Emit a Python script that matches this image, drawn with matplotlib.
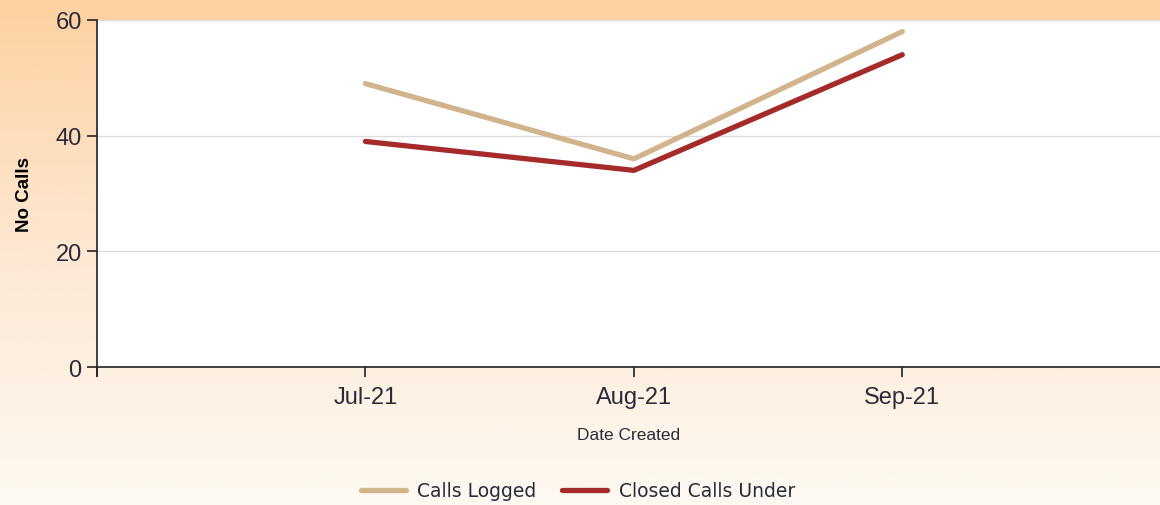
import numpy as np
import matplotlib.pyplot as plt
from matplotlib.colors import LinearSegmentedColormap

months = ["Jul-21", "Aug-21", "Sep-21"]
calls_logged = [49, 36, 58]
closed_calls = [39, 34, 54]

plt.rcParams['font.family'] = ['Liberation Sans', 'DejaVu Sans']
txt = '#2a2a3a'

fig = plt.figure(figsize=(11.6, 5.06), dpi=100)

# background gradient (orange at top fading to pale at bottom)
bg = fig.add_axes([0, 0, 1, 1], zorder=-10)
cmap = LinearSegmentedColormap.from_list('bg', ['#fdf9f2', '#fde8d2', '#fdd1a0'])
grad = np.linspace(0, 1, 256).reshape(-1, 1)
bg.imshow(grad, aspect='auto', cmap=cmap, origin='lower', extent=[0, 1, 0, 1])
bg.axis('off')

ax = fig.add_axes([0.0836, 0.2727, 0.9164, 0.6858])
ax.set_facecolor('white')
x = np.arange(len(months))
ax.plot(x, calls_logged, color='#d2b48c', lw=3.8, label='Calls Logged', solid_capstyle='round')
ax.plot(x, closed_calls, color='#a52a2a', lw=3.8, label='Closed Calls Under', solid_capstyle='round')

ax.set_xlim(-1, 2.96)
ax.set_ylim(0, 60)
ax.set_yticks([0, 20, 40, 60])
ax.set_xticks(x)
ax.set_xticklabels(months)
ax.set_xticks([-1], minor=True)
ax.tick_params(axis='x', which='minor', length=7, width=1.2, direction='out')
ax.tick_params(axis='both', which='major', labelsize=17, colors=txt, length=7, width=1.2)
ax.tick_params(axis='y', pad=4)
ax.tick_params(axis='x', pad=7)
ax.tick_params(axis='both', color='#222222')
ax.grid(axis='y', color='#dcdcdc', lw=1)
ax.set_axisbelow(True)
for s in ['top', 'right']:
    ax.spines[s].set_visible(False)
for s in ['left', 'bottom']:
    ax.spines[s].set_linewidth(1.2)
    ax.spines[s].set_color('#222222')

ax.set_xlabel('Date Created', fontsize=12.5, color=txt, labelpad=13)
ax.set_ylabel('No Calls', fontsize=13.5, fontweight='bold', color='black', labelpad=16)

fig.legend(loc='center', bbox_to_anchor=(0.498, 0.028), ncol=2, frameon=False,
           prop={'family': 'DejaVu Sans', 'size': 13.5}, handlelength=2.4,
           columnspacing=1.4, handletextpad=0.6, labelcolor=txt)

fig.savefig('out.png', dpi=100)
